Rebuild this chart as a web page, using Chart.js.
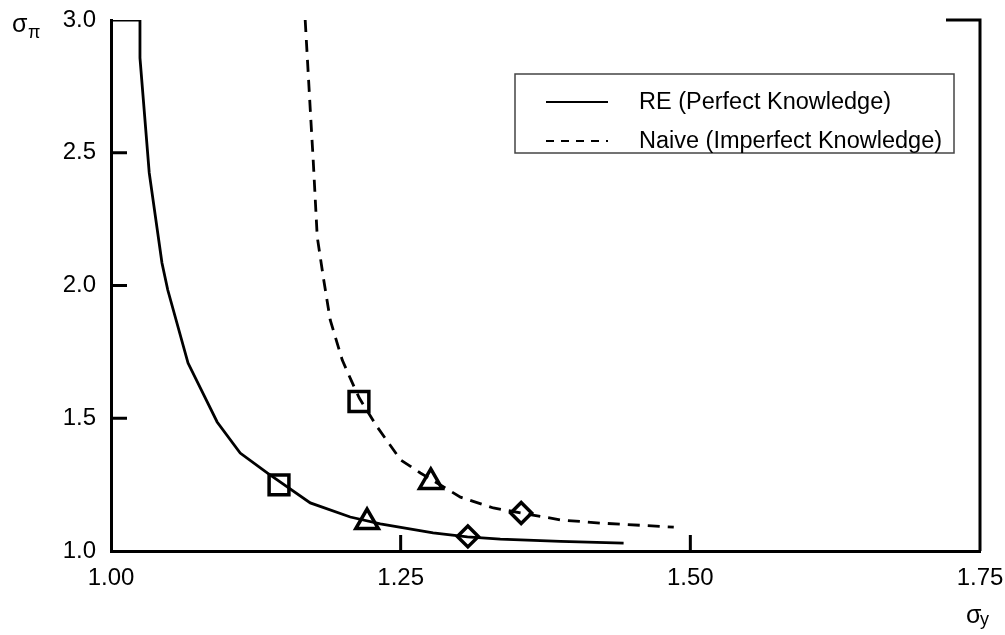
<!DOCTYPE html>
<html>
<head>
  <meta charset="UTF-8">
  <style>
    body { margin: 0; background: #fff; }
  </style>
</head>
<body>
  <canvas id="sigma_chart" width="1005" height="635"></canvas>

  <script src="https://cdn.jsdelivr.net/npm/chart.js"></script>
  <script>

    const FONT = "'Liberation Sans', Arial, Helvetica, sans-serif"

    // RE (Perfect Knowledge) - solid curve, clamped at 3.0 on the top edge
    const reX = [1.000, 1.025, 1.025, 1.033, 1.044, 1.049, 1.0665, 1.0916, 1.1115, 1.1348, 1.172, 1.2065, 1.2324, 1.278, 1.3076, 1.336, 1.388, 1.4424]
    const reY = [3.000, 3.000, 2.857, 2.424, 2.085, 1.983, 1.708, 1.486, 1.369, 1.294, 1.181, 1.128, 1.102, 1.068, 1.053, 1.045, 1.036, 1.030]

    // Naive (Imperfect Knowledge) - dashed curve
    const naiveX = [1.1676, 1.172, 1.1745, 1.178, 1.1832, 1.1892, 1.1996, 1.2083, 1.2143, 1.2298, 1.250, 1.267, 1.3016, 1.330, 1.3543, 1.388, 1.4225, 1.4857]
    const naiveY = [3.000, 2.661, 2.473, 2.183, 2.032, 1.870, 1.719, 1.633, 1.576, 1.467, 1.343, 1.294, 1.203, 1.162, 1.143, 1.117, 1.105, 1.090]

    // markers (square, triangle, diamond) on each curve
    const reMarkX = [1.145, 1.221, 1.308]
    const reMarkY = [1.249, 1.109, 1.055]
    const naiveMarkX = [1.214, 1.276, 1.354]
    const naiveMarkY = [1.563, 1.260, 1.143]
    const markStyles = ['rect', 'triangle', 'rectRot']
    const markRadius = [14, 13, 10.5]

    const xTicks = [1.00, 1.25, 1.50, 1.75]
    const yTicks = [1.0, 1.5, 2.0, 2.5, 3.0]
    const legendLabels = ['RE (Perfect Knowledge)', 'Naive (Imperfect Knowledge)']

    const toPoints = (xs, ys) => xs.map((x, i) => ({x: x, y: ys[i]}))

    // right axis, top stub, inward ticks, legend box and axis symbols
    const framePlugin = {
      id: 'frame',
      afterDraw(chart){
        const ctx = chart.ctx
        const a = chart.chartArea
        const sx = chart.scales.x
        const sy = chart.scales.y
        ctx.save()
        ctx.strokeStyle = '#000'
        ctx.lineWidth = 3
        ctx.beginPath()
        ctx.moveTo(a.right - 34, a.top)
        ctx.lineTo(a.right, a.top)
        ctx.lineTo(a.right, a.bottom)
        xTicks.slice(1, -1).forEach(v => {
          const px = sx.getPixelForValue(v)
          ctx.moveTo(px, a.bottom)
          ctx.lineTo(px, a.bottom - 16)
        })
        yTicks.slice(1, -1).forEach(v => {
          const py = sy.getPixelForValue(v)
          ctx.moveTo(a.left, py)
          ctx.lineTo(a.left + 16, py)
        })
        ctx.stroke()

        // legend
        const bx = a.right - 465
        const by = a.top + 54
        ctx.lineWidth = 1.5
        ctx.strokeStyle = '#444'
        ctx.strokeRect(bx, by, 439, 79)
        ctx.strokeStyle = '#000'
        ctx.lineWidth = 2
        ctx.font = '23.5px ' + FONT
        ctx.fillStyle = '#000'
        ctx.textBaseline = 'middle'
        ctx.textAlign = 'left'
        legendLabels.forEach((label, i) => {
          const ly = by + 28 + i * 39
          ctx.setLineDash(i === 0 ? [] : [8, 7])
          ctx.beginPath()
          ctx.moveTo(bx + 31, ly)
          ctx.lineTo(bx + 93, ly)
          ctx.stroke()
          ctx.fillText(label, bx + 124, ly + 1)
        })
        ctx.setLineDash([])

        // axis symbols
        ctx.textBaseline = 'alphabetic'
        ctx.font = '25px ' + FONT
        ctx.fillText('σ', 12, 32)
        ctx.fillText('σ', 966, 623)
        ctx.font = '18px ' + FONT
        ctx.fillText('π', 28, 38)
        ctx.fillText('y', 980, 625)
        ctx.restore()
      }
    }

    const chart = new Chart(document.getElementById('sigma_chart'), {
      type: 'scatter',
      data: {
        datasets: [
          {
            label: legendLabels[0],
            data: toPoints(reX, reY),
            showLine: true,
            borderColor: '#000',
            borderWidth: 2.8,
            pointRadius: 0,
            tension: 0
          },
          {
            label: legendLabels[1],
            data: toPoints(naiveX, naiveY),
            showLine: true,
            borderColor: '#000',
            borderWidth: 2.8,
            borderDash: [12, 8],
            pointRadius: 0,
            tension: 0
          },
          {
            label: 'RE markers',
            data: toPoints(reMarkX, reMarkY),
            pointStyle: markStyles,
            pointRadius: markRadius,
            pointBorderWidth: 3.5,
            borderColor: '#000',
            backgroundColor: 'rgba(0,0,0,0)'
          },
          {
            label: 'Naive markers',
            data: toPoints(naiveMarkX, naiveMarkY),
            pointStyle: markStyles,
            pointRadius: markRadius,
            pointBorderWidth: 3.5,
            borderColor: '#000',
            backgroundColor: 'rgba(0,0,0,0)'
          }
        ]
      },
      options: {
        responsive: false,
        animation: false,
        devicePixelRatio: 1,
        layout: { padding: { top: 20, right: 25, left: 0, bottom: 0 } },
        plugins: {
          legend: { display: false },
          tooltip: { enabled: false }
        },
        scales: {
          x: {
            type: 'linear',
            min: 1.0,
            max: 1.75,
            afterBuildTicks: s => { s.ticks = xTicks.map(v => ({value: v})) },
            afterFit: s => { s.height = 84; s.paddingLeft = 0; s.paddingRight = 0 },
            grid: { display: false, drawTicks: false },
            border: { display: true, color: '#000', width: 3 },
            ticks: {
              autoSkip: false,
              maxRotation: 0,
              padding: 13,
              color: '#000',
              font: { family: FONT, size: 24 },
              callback: v => Number(v).toFixed(2)
            }
          },
          y: {
            type: 'linear',
            min: 1.0,
            max: 3.0,
            afterBuildTicks: s => { s.ticks = yTicks.map(v => ({value: v})) },
            afterFit: s => { s.width = 111; s.paddingTop = 0; s.paddingBottom = 0 },
            grid: { display: false, drawTicks: false },
            border: { display: true, color: '#000', width: 3 },
            ticks: {
              padding: 15,
              color: '#000',
              font: { family: FONT, size: 24 },
              callback: v => Number(v).toFixed(1)
            }
          }
        }
      },
      plugins: [framePlugin]
    });

  </script>
</body>
</html>
